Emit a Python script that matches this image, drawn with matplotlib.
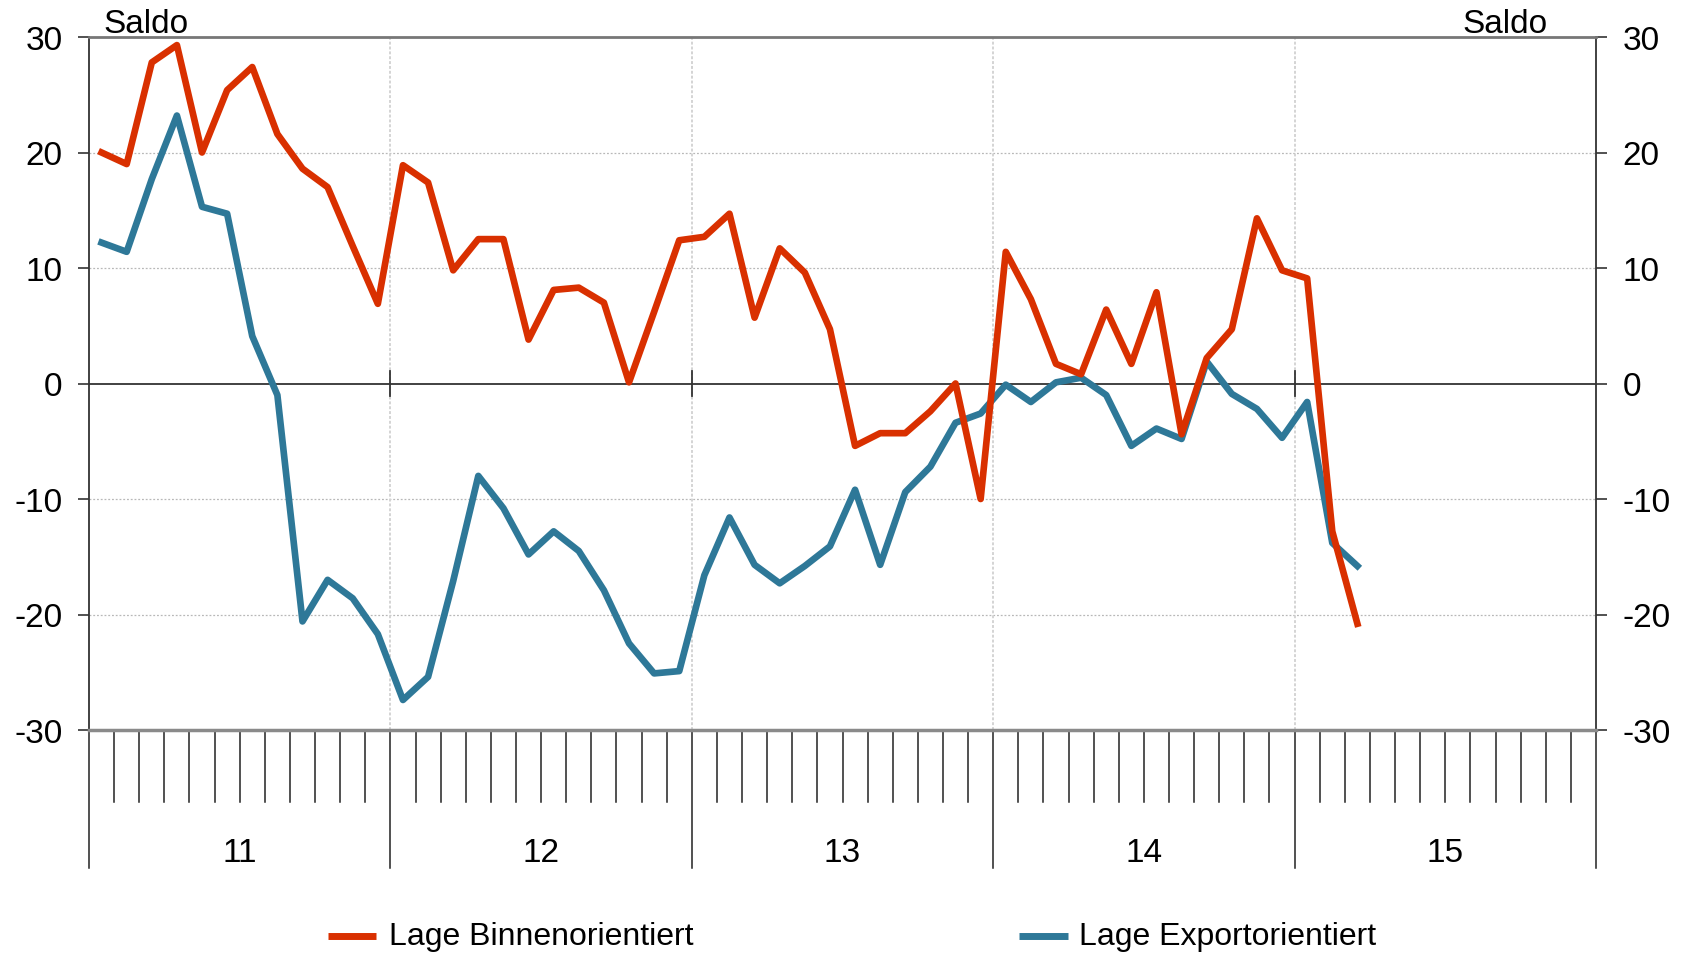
"""
Lage binnen- vs. exportorientiert, Saldo 2011-2015 (monthly)
"""

import matplotlib
matplotlib.use('Agg')
import matplotlib.pyplot as plt
import matplotlib.transforms as mtransforms
from matplotlib.lines import Line2D

plt.rcParams['font.family'] = ['Liberation Sans', 'DejaVu Sans']

# monthly values starting Jan 2011
lage_binnen = [20.0, 19.0, 27.8, 29.3, 20.0, 25.4, 27.4, 21.6, 18.6, 17.0,
               11.9, 6.9, 18.9, 17.4, 9.8, 12.5, 12.5, 3.8, 8.1, 8.3,
               7.0, 0.1, 6.2, 12.4, 12.7, 14.7, 5.7, 11.7, 9.6, 4.7,
               -5.4, -4.3, -4.3, -2.4, 0.0, -10.0, 11.4, 7.3, 1.7, 0.8,
               6.4, 1.7, 7.9, -4.4, 2.2, 4.7, 14.3, 9.8, 9.1, -12.8,
               -20.8]
lage_export = [12.2, 11.4, 17.7, 23.2, 15.3, 14.7, 4.1, -1.0, -20.6, -17.0,
               -18.6, -21.7, -27.4, -25.4, -17.1, -8.0, -10.8, -14.8, -12.8, -14.5,
               -17.9, -22.5, -25.1, -24.9, -16.6, -11.6, -15.7, -17.3, -15.8, -14.1,
               -9.2, -15.7, -9.4, -7.2, -3.4, -2.6, -0.1, -1.6, 0.1, 0.5,
               -1.0, -5.4, -3.9, -4.8, 1.9, -0.9, -2.2, -4.7, -1.6, -13.8,
               -15.8]
years = ['11', '12', '13', '14', '15']
y_ticks = [-30, -20, -10, 0, 10, 20, 30]
series_names = ['Lage Binnenorientiert', 'Lage Exportorientiert']

RED = '#D93000'
BLUE = '#2E7898'

n_months = 12 * len(years)

fig = plt.figure(figsize=(16.91, 9.54), dpi=100)
ax = fig.add_axes([89 / 1691, 1 - 731 / 954, 1507 / 1691, 693 / 954])

# grid
for v in y_ticks:
    if v in (-30, 0, 30):
        continue
    ax.axhline(v, color='#b8b8b8', lw=0.9, ls=(0, (1.5, 1.5)), zorder=1)
for k in range(12, n_months, 12):
    ax.axvline(k, color='#d4d4d4', lw=1.4, ls=(0, (1.5, 1.0)), zorder=1)
ax.axhline(0, color='#333333', lw=1.3, zorder=2)
for k in range(12, n_months, 12):
    ax.plot([k, k], [-1.1, 1.1], color='#333333', lw=1.3, zorder=2)

x_binnen = [i + 0.5 for i in range(len(lage_binnen))]
x_export = [i + 0.5 for i in range(len(lage_export))]
ax.plot(x_export, lage_export, color=BLUE, lw=4.8, solid_joinstyle='round', zorder=3)
ax.plot(x_binnen, lage_binnen, color=RED, lw=4.8, solid_joinstyle='round', zorder=4)

ax.set_xlim(0, n_months)
ax.set_ylim(-30, 30)
ax.set_xticks([])
ax.set_yticks(y_ticks)
ax.set_yticklabels([str(v) for v in y_ticks])
ax.tick_params(axis='y', which='both', left=True, right=True, labelleft=True,
               labelright=True, direction='out', length=8, width=1.2,
               color='#333333', pad=11, labelsize=24)

for side in ('left', 'right'):
    ax.spines[side].set_color('#333333')
    ax.spines[side].set_linewidth(1.3)
ax.spines['top'].set_color('#777777')
ax.spines['top'].set_linewidth(2)
ax.spines['bottom'].set_color('#8a8a8a')
ax.spines['bottom'].set_linewidth(2.5)

# month / year ticks below the plot
trans = mtransforms.blended_transform_factory(ax.transData, ax.transAxes)
for k in range(n_months + 1):
    low = -0.199 if k % 12 == 0 else -0.104
    ax.plot([k, k], [0, low], color='#222222', lw=1.1, transform=trans, clip_on=False)
for i, yr in enumerate(years):
    ax.text(12 * i + 6, -0.177, yr, transform=trans, ha='center', va='center', fontsize=24)

fig.text(103 / 1691, 1 - 33 / 954, 'Saldo', ha='left', va='baseline', fontsize=24)
fig.text(1548 / 1691, 1 - 33 / 954, 'Saldo', ha='right', va='baseline', fontsize=24)

# legend
leg_y = 1 - 937 / 954
for (x0, x1, xt), name, col in zip([(328, 376, 389), (1019, 1068, 1079)], series_names, [RED, BLUE]):
    fig.add_artist(Line2D([x0 / 1691, x1 / 1691], [leg_y, leg_y], color=col, lw=5,
                          solid_capstyle='butt', transform=fig.transFigure))
    fig.text(xt / 1691, leg_y, name, ha='left', va='center', fontsize=23)

plt.savefig('out.png', dpi=100)
plt.close()
